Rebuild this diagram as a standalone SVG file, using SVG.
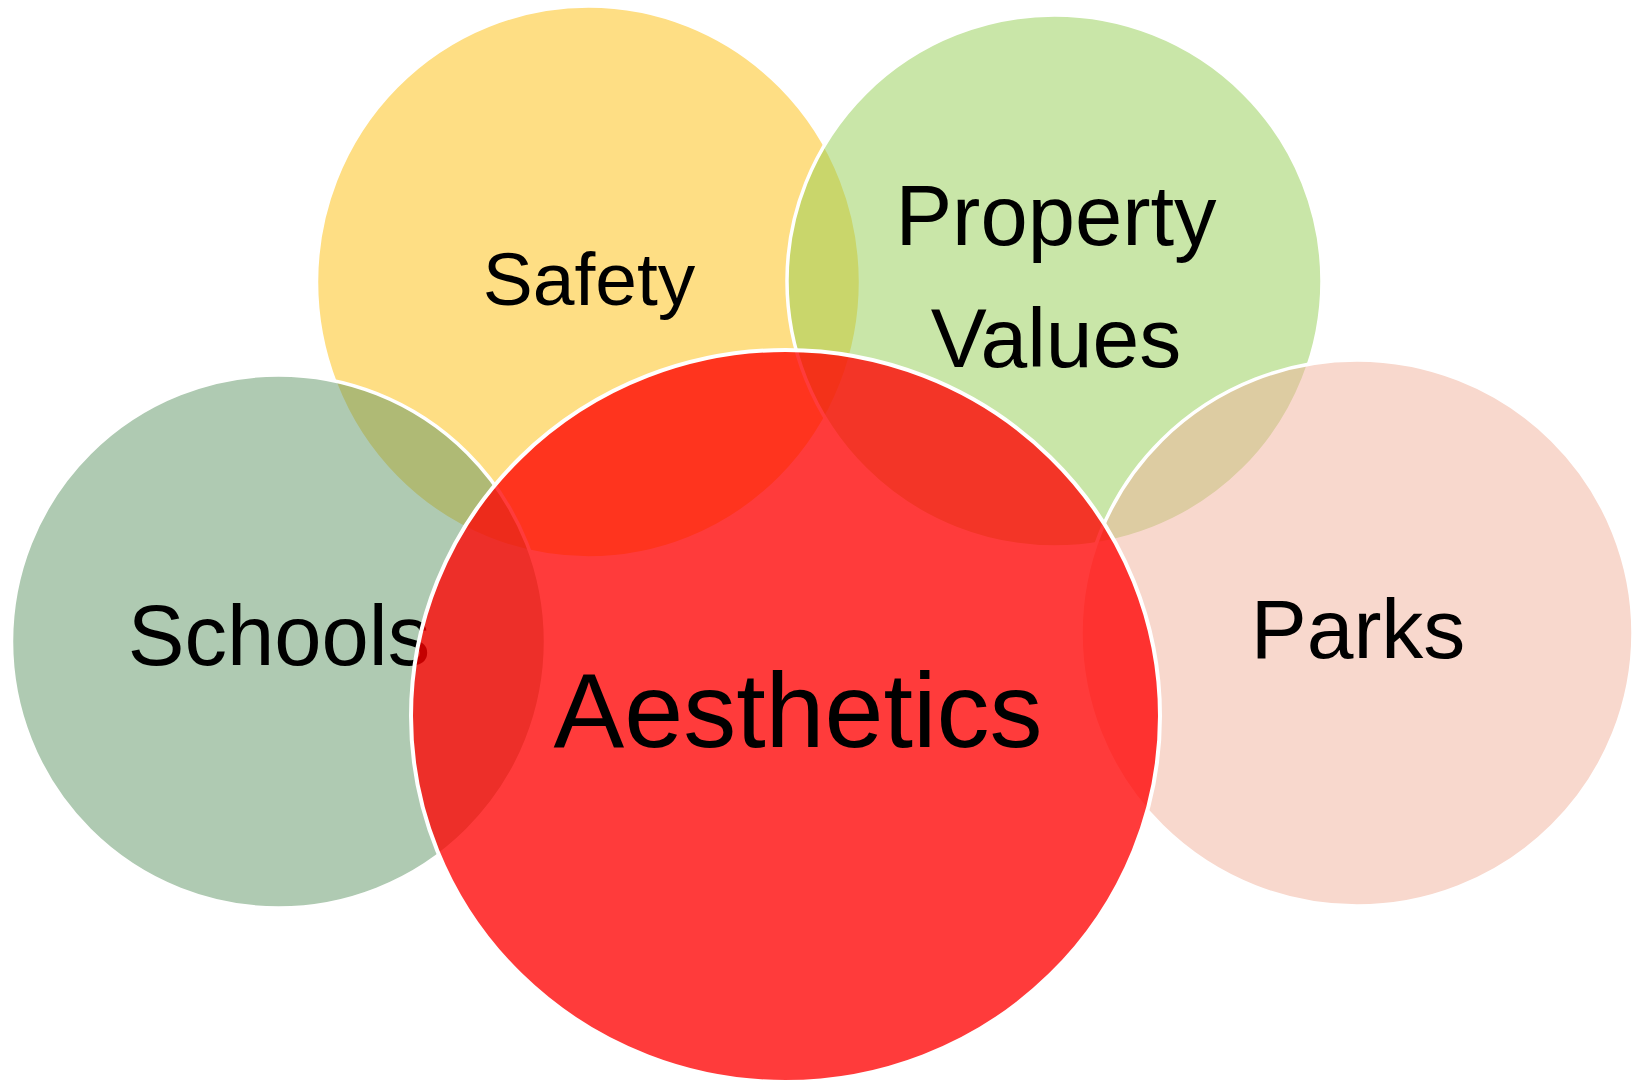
<svg xmlns="http://www.w3.org/2000/svg" width="1642" height="1084" viewBox="0 0 1642 1084">
<style>
.c{stroke:#fff;stroke-width:3.5;fill-opacity:0.5}
.t{font-family:"Liberation Sans",Arial,sans-serif;fill:#000;text-anchor:middle}
</style>
<rect width="1642" height="1084" fill="#fff"/>
<g id="safety">
<ellipse class="c" cx="588.5" cy="282" rx="272" ry="276" fill="#FDBD09"/>
<text class="t" x="589" y="305" font-size="75">Safety</text>
</g>
<g id="schools">
<ellipse class="c" cx="278.5" cy="641.5" rx="267" ry="266.5" fill="#5F9565"/>
<text class="t" x="279" y="665" font-size="85">Schools</text>
</g>
<g id="property-values">
<ellipse class="c" cx="1054.5" cy="281" rx="267.5" ry="266" fill="#93CD51"/>
<text class="t" x="1056" y="245" font-size="85">Property</text>
<text class="t" x="1056" y="367" font-size="84">Values</text>
</g>
<g id="parks">
<ellipse class="c" cx="1357" cy="633" rx="276" ry="273" fill="#F1B19B"/>
<text class="t" x="1358" y="658" font-size="84">Parks</text>
</g>
<g id="aesthetics">
<ellipse cx="785.5" cy="716" rx="374.5" ry="366" fill="#FF0000" fill-opacity="0.77" stroke="#fff" stroke-width="4"/>
<text class="t" x="798" y="747" font-size="106">Aesthetics</text>
</g>
<g id="connectors"></g>
</svg>
